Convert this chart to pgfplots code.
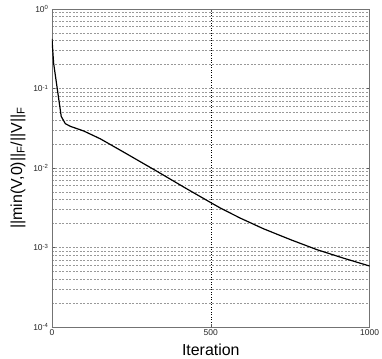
\documentclass[border=0pt]{standalone}
\usepackage{fontspec}
\setmainfont{Liberation Sans}
\usepackage{pgfplots}
\pgfplotsset{compat=1.18}

\begin{document}
\begin{tikzpicture}
\begin{axis}[
    at={(0,0)}, anchor=south west,
    width=317.6bp, height=318bp, scale only axis,
    xmin=0, xmax=1000, ymin=1e-4, ymax=1,
    ymode=log,
    xtick={0,500,1000}, xticklabels={0,500,1000},
    ytick={1e-4,1e-3,1e-2,1e-1,1},
    yticklabels={10\textsuperscript{-4},10\textsuperscript{-3},10\textsuperscript{-2},10\textsuperscript{-1},10\textsuperscript{0}},
    tick label style={font=\fontsize{8.5}{9}\selectfont, color=black!85},
    xmajorgrids, ymajorgrids, yminorgrids,
    major grid style={gray!80, dash pattern=on 2pt off 1.5pt, line width=0.5pt},
    minor grid style={gray!80, dash pattern=on 2pt off 1.5pt, line width=0.5pt},
    x grid style={black, dotted, line width=0.6pt},
    tick align=inside, major tick length=3bp, minor tick length=0pt,
    axis line style={gray!90!black, line width=0.8pt},
    every tick/.style={gray!70!black},
    xlabel={Iteration},
    every axis x label/.style={at={(axis description cs:0.5,-0.072)}, anchor=center,
        font=\fontsize{16}{18}\selectfont},
    ylabel={||min(V,0)||\textsubscript{F}/||V||\textsubscript{F}},
    every axis y label/.style={at={(axis description cs:-0.107,0.5)}, anchor=center, rotate=90,
        font=\fontsize{16}{18}\selectfont},
    xticklabel style={yshift=1bp},
]
\addplot[black, line width=1.2pt] coordinates {
    (0,0.42)
    (5,0.21)
    (29,0.0446)
    (42,0.0361)
    (58,0.0334)
    (100,0.0292)
    (152,0.0233)
    (231,0.0154)
    (331,0.00906)
    (420,0.0056)
    (502,0.00363)
    (530,0.00314)
    (593,0.00234)
    (666,0.00172)
    (750,0.00126)
    (834,0.00094)
    (920,0.00073)
    (1000,0.000585)
};
\end{axis}
\pgfresetboundingbox
\path[use as bounding box] (-52bp,-32bp) rectangle (330bp,327bp);
\end{tikzpicture}
\end{document}
